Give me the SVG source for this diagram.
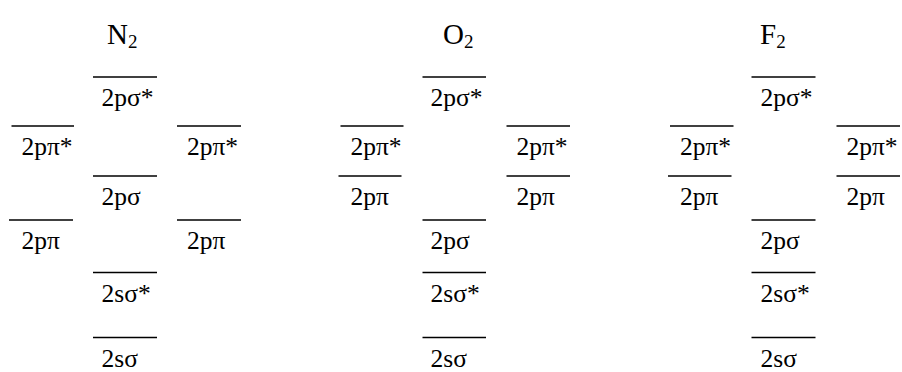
<svg xmlns="http://www.w3.org/2000/svg" width="902" height="372" viewBox="0 0 902 372">
<style>
.lv{stroke:#000;stroke-width:1.6;fill:none}
text{font-family:"Liberation Serif","Times New Roman",serif;font-size:25.5px;fill:#000}
.ttl{font-size:29px}
.sub{font-size:19px}
</style>
<rect width="902" height="372" fill="#fff"/>
<g id="N2">
<text class="ttl" x="107" y="44">N<tspan class="sub" dy="4">2</tspan></text>
<g id="N2-2psigstar"><line class="lv" x1="93" y1="77" x2="157" y2="77"/><text x="101.5" y="106">2pσ*</text></g>
<g id="N2-2ppistar-L"><line class="lv" x1="11.5" y1="126" x2="74" y2="126"/><text x="21.5" y="155">2pπ*</text></g>
<g id="N2-2ppistar-R"><line class="lv" x1="177" y1="126" x2="241" y2="126"/><text x="187" y="155">2pπ*</text></g>
<g id="N2-2psig"><line class="lv" x1="93" y1="176" x2="157" y2="176"/><text x="101.5" y="205">2pσ</text></g>
<g id="N2-2ppi-L"><line class="lv" x1="9" y1="220" x2="73" y2="220"/><text x="21.5" y="249">2pπ</text></g>
<g id="N2-2ppi-R"><line class="lv" x1="177" y1="220" x2="241" y2="220"/><text x="187" y="249">2pπ</text></g>
<g id="N2-2ssigstar"><line class="lv" x1="93" y1="272.5" x2="157" y2="272.5"/><text x="101.5" y="302">2sσ*</text></g>
<g id="N2-2ssig"><line class="lv" x1="93" y1="337.5" x2="157" y2="337.5"/><text x="101.5" y="367">2sσ</text></g>
</g>
<g id="O2">
<text class="ttl" x="443" y="44">O<tspan class="sub" dy="4">2</tspan></text>
<g id="O2-2psigstar"><line class="lv" x1="422.5" y1="77" x2="486" y2="77"/><text x="430.5" y="106">2pσ*</text></g>
<g id="O2-2ppistar-L"><line class="lv" x1="340.5" y1="126" x2="403.5" y2="126"/><text x="350.5" y="155">2pπ*</text></g>
<g id="O2-2ppistar-R"><line class="lv" x1="506.5" y1="126" x2="570" y2="126"/><text x="516.5" y="155">2pπ*</text></g>
<g id="O2-2ppi-L"><line class="lv" x1="338.5" y1="176" x2="401.5" y2="176"/><text x="350.5" y="205">2pπ</text></g>
<g id="O2-2ppi-R"><line class="lv" x1="506.5" y1="176" x2="570" y2="176"/><text x="516.5" y="205">2pπ</text></g>
<g id="O2-2psig"><line class="lv" x1="422.5" y1="220" x2="486" y2="220"/><text x="430.5" y="249">2pσ</text></g>
<g id="O2-2ssigstar"><line class="lv" x1="422.5" y1="272.5" x2="486" y2="272.5"/><text x="430.5" y="302">2sσ*</text></g>
<g id="O2-2ssig"><line class="lv" x1="422.5" y1="337.5" x2="486" y2="337.5"/><text x="430.5" y="367">2sσ</text></g>
</g>
<g id="F2">
<text class="ttl" x="760" y="44">F<tspan class="sub" dy="4">2</tspan></text>
<g id="F2-2psigstar"><line class="lv" x1="751.5" y1="77" x2="815.5" y2="77"/><text x="760.5" y="106">2pσ*</text></g>
<g id="F2-2ppistar-L"><line class="lv" x1="670" y1="126" x2="733.5" y2="126"/><text x="680" y="155">2pπ*</text></g>
<g id="F2-2ppistar-R"><line class="lv" x1="836.5" y1="126" x2="900" y2="126"/><text x="846.5" y="155">2pπ*</text></g>
<g id="F2-2ppi-L"><line class="lv" x1="668" y1="176" x2="731.5" y2="176"/><text x="680" y="205">2pπ</text></g>
<g id="F2-2ppi-R"><line class="lv" x1="836.5" y1="176" x2="900" y2="176"/><text x="846.5" y="205">2pπ</text></g>
<g id="F2-2psig"><line class="lv" x1="751.5" y1="220" x2="815.5" y2="220"/><text x="760.5" y="249">2pσ</text></g>
<g id="F2-2ssigstar"><line class="lv" x1="751.5" y1="272.5" x2="815.5" y2="272.5"/><text x="760.5" y="302">2sσ*</text></g>
<g id="F2-2ssig"><line class="lv" x1="751.5" y1="337.5" x2="815.5" y2="337.5"/><text x="760.5" y="367">2sσ</text></g>
</g>
<g id="connectors"/>
</svg>
